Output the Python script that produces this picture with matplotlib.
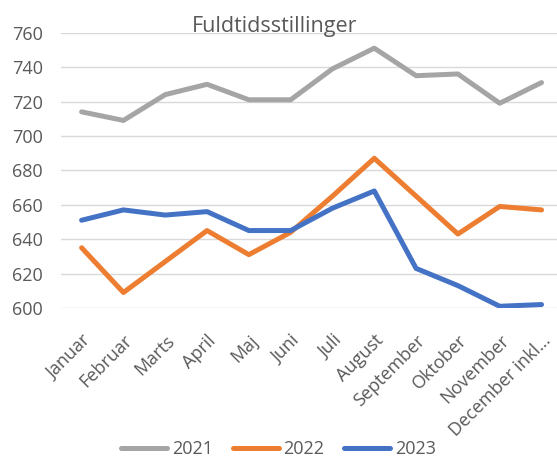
import matplotlib
matplotlib.use("Agg")
import matplotlib.pyplot as plt

# ================== DATA ==================
months = ["Januar", "Februar", "Marts", "April", "Maj", "Juni", "Juli",
          "August", "September", "Oktober", "November", "December inkl\u2026"]
y2021 = [714, 709, 724, 730, 721, 721, 739, 751, 735, 736, 719, 731]
y2022 = [635, 609, 627, 645, 631, 644, 665, 687, 665, 643, 659, 657]
y2023 = [651, 657, 654, 656, 645, 645, 658, 668, 623, 613, 601, 602]
yticks = [600, 620, 640, 660, 680, 700, 720, 740, 760]

# ================== STYLE ==================
plt.rcParams["font.family"] = ["Open Sans", "DejaVu Sans"]
txt = "#595959"

fig = plt.figure(figsize=(5.57, 4.59), dpi=100)
ax = fig.add_axes([0.109, 0.329, 0.891, 0.5998])

x = list(range(len(months)))
ax.plot(x, y2021, color="#A5A5A5", lw=3.6, label="2021", solid_capstyle="round", zorder=3)
ax.plot(x, y2022, color="#ED7D31", lw=3.6, label="2022", solid_capstyle="round", zorder=3)
ax.plot(x, y2023, color="#4472C4", lw=3.6, label="2023", solid_capstyle="round", zorder=3)

ax.set_xlim(-0.5, 11.37)
ax.set_ylim(600, 760)
ax.set_yticks(yticks)
ax.yaxis.grid(True, color="#D9D9D9", lw=1)
ax.set_axisbelow(True)
for s in ax.spines.values():
    s.set_visible(False)

ax.set_xticks(x)
ax.set_xticklabels(months, rotation=45, ha="right", va="top",
                   rotation_mode="anchor", fontsize=13, color=txt)
ax.tick_params(axis="x", length=0, pad=17)
ax.tick_params(axis="y", length=0, pad=13, labelsize=13, labelcolor=txt)

# titel
fig.text(0.493, 1 - 32 / 459, "Fuldtidsstillinger", ha="center", va="baseline",
         fontsize=15.5, color=txt)

fig.legend(loc="center", bbox_to_anchor=(0.5, 1 - 449 / 459), ncol=3,
           frameon=False, fontsize=13, handlelength=2.55, columnspacing=1.1,
           handletextpad=0.25, labelcolor=txt)

fig.savefig("out.png", dpi=100)
